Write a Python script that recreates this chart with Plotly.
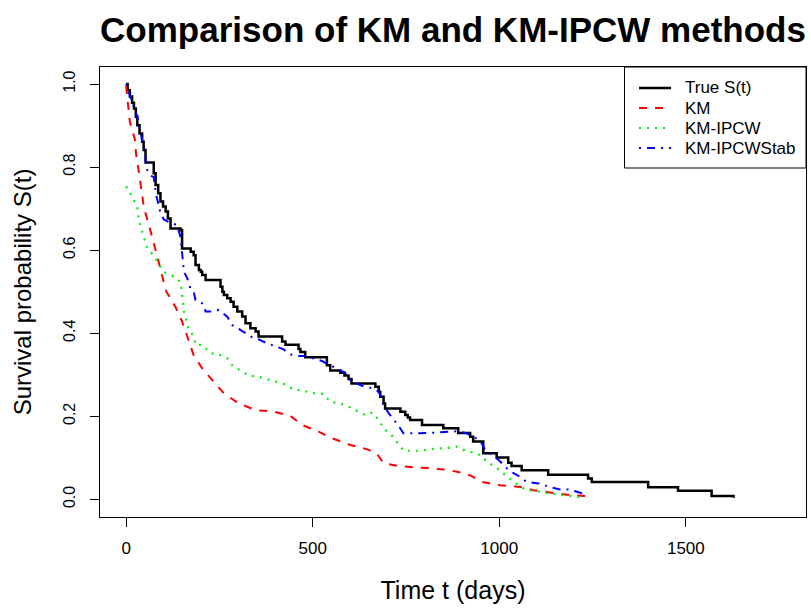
import plotly.graph_objects as go

# ---------------- data ----------------
true_t = [0, 4, 10, 16, 21, 26, 30, 36, 43, 47, 52, 74, 79, 86, 92, 99, 106, 112, 119, 146, 150,
          173, 181, 186, 195, 200, 204, 213, 253, 258, 262, 271, 280, 288, 298, 311, 320, 333,
          347, 355, 418, 427, 462, 467, 480, 538, 547, 574, 585, 596, 604, 668, 677, 681, 690,
          694, 735, 748, 755, 761, 793, 850, 890, 922, 930, 957, 993, 1024, 1033, 1060, 1131,
          1238, 1248, 1399, 1479, 1569, 1628]
true_s = [1.0, 0.985, 0.97, 0.955, 0.941, 0.921, 0.901, 0.881, 0.861, 0.841, 0.811, 0.785, 0.757,
          0.737, 0.717, 0.705, 0.693, 0.676, 0.652, 0.648, 0.604, 0.596, 0.588, 0.564, 0.552,
          0.548, 0.540, 0.528, 0.512, 0.500, 0.492, 0.484, 0.476, 0.464, 0.452, 0.440, 0.424,
          0.412, 0.404, 0.392, 0.380, 0.372, 0.362, 0.355, 0.342, 0.323, 0.310, 0.305, 0.298,
          0.290, 0.279, 0.271, 0.259, 0.247, 0.231, 0.219, 0.211, 0.203, 0.197, 0.191, 0.179,
          0.171, 0.160, 0.151, 0.139, 0.111, 0.101, 0.088, 0.080, 0.070, 0.059, 0.050, 0.042,
          0.029, 0.021, 0.008, 0.004]

km_t = [0, 4, 10, 23, 27, 34, 41, 48, 61, 74, 85, 97, 108, 132, 150, 164, 181, 204, 235, 262,
        302, 347, 396, 440, 472, 516, 552, 601, 645, 672, 690, 726, 770, 823, 868, 913, 926,
        953, 1002, 1056, 1091, 1145, 1190, 1234]
km_s = [0.995, 0.957, 0.909, 0.869, 0.829, 0.789, 0.741, 0.701, 0.661, 0.620, 0.580, 0.536,
        0.500, 0.464, 0.428, 0.392, 0.347, 0.315, 0.283, 0.255, 0.231, 0.215, 0.211, 0.201,
        0.179, 0.163, 0.147, 0.131, 0.121, 0.110, 0.087, 0.081, 0.077, 0.075, 0.070, 0.061,
        0.056, 0.042, 0.034, 0.030, 0.022, 0.016, 0.010, 0.008]

ipcw_t = [0, 9, 19, 30, 34, 41, 48, 52, 66, 76, 92, 102, 119, 132, 146, 150, 152, 155, 160, 168,
          181, 186, 204, 226, 248, 271, 284, 306, 328, 355, 377, 405, 422, 448, 472, 499, 528,
          548, 569, 592, 619, 641, 660, 677, 690, 713, 730, 744, 788, 815, 864, 886, 909, 935,
          953, 966, 989, 1011, 1029, 1051, 1073, 1100, 1130, 1172, 1195, 1216]
ipcw_s = [0.754, 0.739, 0.723, 0.705, 0.671, 0.653, 0.632, 0.612, 0.596, 0.584, 0.560, 0.547,
          0.540, 0.535, 0.522, 0.500, 0.480, 0.452, 0.432, 0.408, 0.393, 0.372, 0.372, 0.352,
          0.349, 0.340, 0.323, 0.311, 0.298, 0.295, 0.289, 0.283, 0.278, 0.265, 0.262, 0.256,
          0.254, 0.234, 0.232, 0.225, 0.213, 0.203, 0.209, 0.191, 0.171, 0.153, 0.133, 0.117,
          0.117, 0.121, 0.124, 0.127, 0.117, 0.112, 0.105, 0.091, 0.078, 0.063, 0.049, 0.034,
          0.022, 0.020, 0.015, 0.010, 0.008, 0.005]

stab_t = [0, 9, 16, 30, 41, 52, 54, 66, 74, 80, 92, 101, 114, 137, 146, 150, 152, 155, 164, 168,
          172, 181, 186, 199, 208, 213, 235, 248, 271, 284, 298, 320, 342, 355, 377, 405, 422,
          440, 464, 480, 525, 538, 569, 587, 601, 627, 641, 663, 677, 686, 690, 704, 730, 743,
          766, 785, 837, 864, 886, 910, 922, 944, 953, 962, 980, 998, 1020, 1038, 1056, 1073,
          1100, 1114, 1136, 1163, 1185, 1207, 1225, 1238]
stab_s = [1.0, 0.973, 0.957, 0.921, 0.877, 0.825, 0.797, 0.779, 0.776, 0.735, 0.690, 0.674,
          0.668, 0.660, 0.630, 0.600, 0.584, 0.548, 0.532, 0.520, 0.508, 0.500, 0.480, 0.476,
          0.468, 0.452, 0.452, 0.456, 0.440, 0.420, 0.412, 0.400, 0.388, 0.385, 0.376, 0.367,
          0.361, 0.349, 0.345, 0.345, 0.333, 0.327, 0.313, 0.305, 0.287, 0.275, 0.271, 0.267,
          0.259, 0.239, 0.227, 0.207, 0.177, 0.159, 0.159, 0.159, 0.161, 0.163, 0.164, 0.160,
          0.155, 0.144, 0.135, 0.119, 0.107, 0.095, 0.075, 0.063, 0.054, 0.042, 0.039, 0.037,
          0.029, 0.024, 0.024, 0.018, 0.014, 0.013]

x_ticks = [0, 500, 1000, 1500]
y_ticks = [0.0, 0.2, 0.4, 0.6, 0.8, 1.0]
y_tick_text = ["0.0", "0.2", "0.4", "0.6", "0.8", "1.0"]

series_names = ["True S(t)", "KM", "KM-IPCW", "KM-IPCWStab"]
series_colors = ["black", "#FF0000", "#00EE00", "#0000FF"]
series_dash = ["solid", "8px,8px", "2px,6px", "2px,6px,8px,6px"]
series_width = [2.5, 2, 2.2, 2]

FONT = "Liberation Sans, Arial, sans-serif"

# figure geometry (pixels)
W, H = 811, 608
ML, MR, MT, MB = 100, 5, 67, 91
PW, PH = W - ML - MR, H - MT - MB


def px_x(px):
    return (px - ML) / PW


def px_y(py):
    return (H - MB - py) / PH


fig = go.Figure()
data = [(true_t, true_s), (km_t, km_s), (ipcw_t, ipcw_s), (stab_t, stab_s)]
for i, (tt, ss) in enumerate(data):
    fig.add_trace(go.Scatter(
        x=tt, y=ss, mode="lines", name=series_names[i], showlegend=False,
        line=dict(color=series_colors[i], width=series_width[i], dash=series_dash[i],
                  shape="hv" if i == 0 else "linear")))

# legend box in the R style (top-right corner of the plot region)
shapes = [dict(type="rect", xref="paper", yref="paper",
               x0=px_x(624.5), x1=1.0, y0=px_y(168), y1=1.0,
               line=dict(color="black", width=1), fillcolor="white", layer="above")]
annotations = []
row_y = [88, 108, 128, 148]
for i, name in enumerate(series_names):
    shapes.append(dict(type="line", xref="paper", yref="paper",
                       x0=px_x(639), x1=px_x(671), y0=px_y(row_y[i]), y1=px_y(row_y[i]),
                       line=dict(color=series_colors[i], width=series_width[i],
                                 dash=series_dash[i]), layer="above"))
    annotations.append(dict(text=name, xref="paper", yref="paper",
                            x=px_x(683), y=px_y(row_y[i]), xanchor="left", yanchor="middle",
                            showarrow=False, font=dict(size=17, family=FONT, color="black")))

fig.update_layout(
    width=W, height=H,
    margin=dict(l=ML, r=MR, t=MT, b=MB, pad=0),
    paper_bgcolor="white", plot_bgcolor="white",
    font=dict(family=FONT, color="black"),
    title=dict(text="<b>Comparison of KM and KM-IPCW methods</b>",
               font=dict(size=35, family=FONT, color="black"),
               x=0.5, xref="paper", xanchor="center",
               y=1 - 30 / H, yref="container", yanchor="middle"),
    showlegend=False,
    shapes=shapes,
    annotations=annotations,
    xaxis=dict(range=[-70, 1822], tickvals=x_ticks, ticks="outside", ticklen=9,
               tickwidth=1, tickcolor="black", showline=True, mirror=True,
               linecolor="black", linewidth=1, showgrid=False, zeroline=False,
               tickfont=dict(size=17), ticklabelstandoff=7,
               title=dict(text="Time t (days)", font=dict(size=25), standoff=24)),
    yaxis=dict(range=[-0.0425, 1.041], tickvals=y_ticks, ticktext=y_tick_text,
               ticks="outside", ticklen=9, tickwidth=1, tickcolor="black",
               showline=True, mirror=True, linecolor="black", linewidth=1,
               showgrid=False, zeroline=False, tickangle=-90,
               tickfont=dict(size=16), ticklabelstandoff=9,
               title=dict(text="Survival probability S(t)", font=dict(size=24), standoff=22)),
)

fig.write_html("out.html")
